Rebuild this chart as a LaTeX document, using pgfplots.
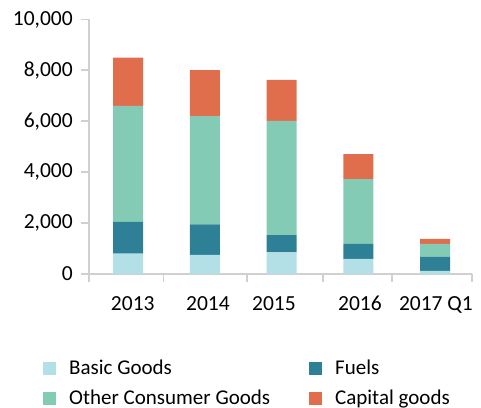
\documentclass[border=0pt]{standalone}
\usepackage{pgfplots}
\pgfplotsset{compat=1.18}
\usepackage{fontspec}
\setmainfont{Carlito}
\definecolor{cbasic}{HTML}{B2E0E6}
\definecolor{cfuel}{HTML}{2E8096}
\definecolor{cother}{HTML}{84CBB5}
\definecolor{ccap}{HTML}{E06E4C}
\definecolor{caxis}{HTML}{D0D0D0}
\begin{document}
\begin{tikzpicture}
\begin{axis}[
  scale only axis,
  width=383pt, height=254.6pt,
  ybar stacked, bar width=30pt,
  xmin=-0.51, xmax=4.48,
  ymin=0, ymax=10000,
  axis x line*=bottom, axis y line*=left,
  axis line style={caxis, line width=1.8pt},
  every tick/.style={caxis, line width=1.8pt},
  tick align=outside, major tick length=7.7pt,
  xtick={-0.51,0.46,1.55,2.54,3.44,4.48},
  xticklabels={},
  extra x ticks={0.06,1.04,1.90,3.02,4.01},
  extra x tick labels={2013,2014,2015,2016,2017 Q1},
  extra x tick style={major tick length=0pt, xticklabel style={anchor=base, yshift=-36.5pt}},
  ytick={0,2000,4000,6000,8000,10000},
  scaled y ticks=false,
  /pgf/number format/1000 sep={,},
  /pgf/number format/assume math mode=true,
  tick label style={font=\fontsize{21.5}{25}\selectfont, black},
  yticklabel style={xshift=-5pt},
  legend columns=2,
  legend style={draw=none, fill=none, at={(axis description cs:-0.128,-0.322)}, anchor=north west,
    font=\fontsize{21}{25}\selectfont, row sep=10pt,
    /tikz/every odd column/.append style={column sep=11pt},
    /tikz/every even column/.append style={column sep=37pt}},
  legend image code/.code={\fill[#1] (0pt,-6.5pt) rectangle (13pt,6.5pt);},
  legend cell align=left,
  clip=false,
]
\addplot[fill=cbasic, draw=none] coordinates {(0,800) (1,750) (2,850) (3,590) (4,120)};
\addlegendentry{Basic Goods}
\addplot[fill=cfuel, draw=none] coordinates {(0,1250) (1,1200) (2,680) (3,590) (4,550)};
\addlegendentry{Fuels}
\addplot[fill=cother, draw=none] coordinates {(0,4550) (1,4250) (2,4480) (3,2550) (4,510)};
\addlegendentry{Other Consumer Goods}
\addplot[fill=ccap, draw=none] coordinates {(0,1900) (1,1810) (2,1610) (3,980) (4,200)};
\addlegendentry{Capital goods}
\end{axis}
\pgfresetboundingbox
\path (-89pt,-133pt) rectangle (392pt,274pt);
\end{tikzpicture}
\end{document}
